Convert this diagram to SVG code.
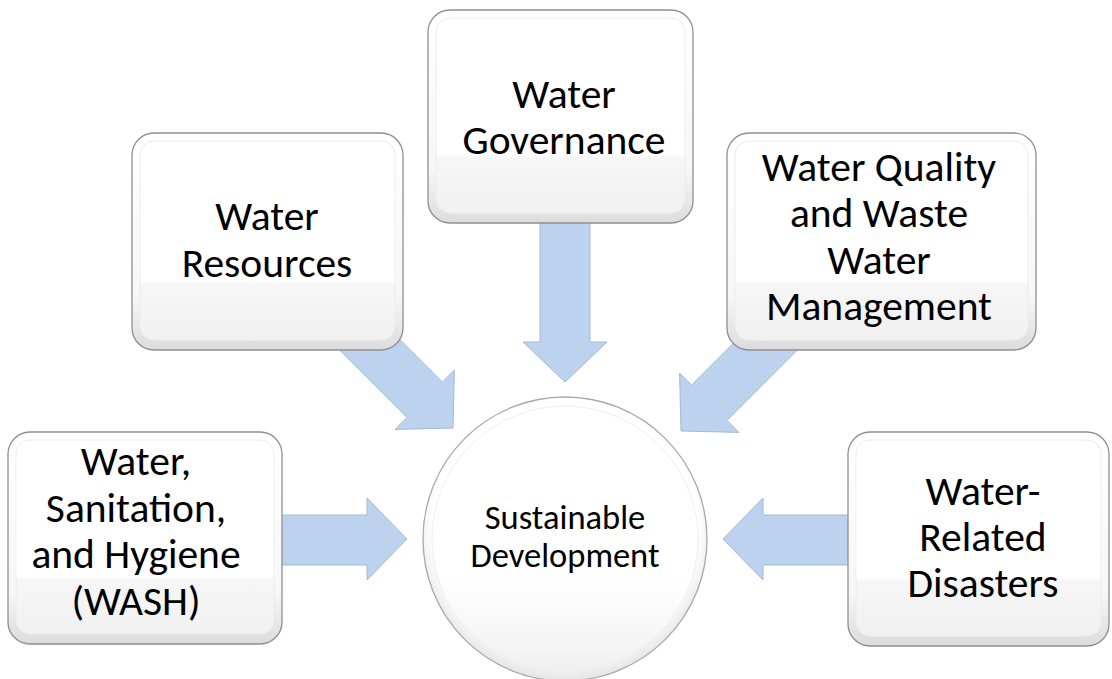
<svg xmlns="http://www.w3.org/2000/svg" width="1112" height="679" viewBox="0 0 1112 679">
  <style>
    .lbl { font-family: Carlito, Lato, "Liberation Sans", sans-serif; font-size: 41.5px; fill: #000; text-anchor: middle; }
    .cl { font-family: Carlito, Lato, "Liberation Sans", sans-serif; font-size: 34.5px; fill: #000; text-anchor: middle; }
    .outer { fill: url(#boxGrad); stroke: #8f8f8f; stroke-width: 1.3; }
    .inner { fill: url(#innerGrad); stroke: #ececec; stroke-width: 1; }
    .arrow { fill: #bcd2ee; stroke: #a3b9d8; stroke-width: 1; }
  </style>
  <defs>
    <linearGradient id="boxGrad" x1="0" y1="0" x2="0" y2="1">
      <stop offset="0" stop-color="#ffffff"/>
      <stop offset="0.75" stop-color="#f7f7f7"/>
      <stop offset="1" stop-color="#dcdcdc"/>
    </linearGradient>
    <linearGradient id="innerGrad" x1="0" y1="0" x2="0" y2="1">
      <stop offset="0" stop-color="#ffffff"/>
      <stop offset="0.7" stop-color="#ffffff"/>
      <stop offset="0.72" stop-color="#f6f6f6"/>
      <stop offset="1" stop-color="#f1f1f1"/>
    </linearGradient>
    <radialGradient id="circGrad" cx="0.5" cy="0.45" r="0.55">
      <stop offset="0.85" stop-color="#ffffff"/>
      <stop offset="1" stop-color="#e4e4e4"/>
    </radialGradient>
    <linearGradient id="circInner" x1="0" y1="0" x2="0" y2="1">
      <stop offset="0" stop-color="#ffffff"/>
      <stop offset="0.65" stop-color="#ffffff"/>
      <stop offset="1" stop-color="#f0f0f0"/>
    </linearGradient>
  </defs>

  <g id="connectors">
    <polygon class="arrow" points="540,200 590,200 590,342 607,342 565,382 523,342 540,342"/>
    <polygon class="arrow" points="260,515 367,515 367,498 407,539 367,580 367,565 260,565"/>
    <polygon class="arrow" points="870,515 763,515 763,498 723,539 763,580 763,565 870,565"/>
    <polygon class="arrow" points="364.6,304.2 442.4,382 454.4,370 453,428 395,429.4 407,417.4 329.2,339.6"/>
    <polygon class="arrow" points="769.4,307.2 691.6,385 679.6,373 681,431 739,432.4 727,420.4 804.8,342.6"/>
  </g>

  <g id="node-governance">
    <rect class="outer" x="428" y="10" width="265" height="213" rx="22"/>
    <rect class="inner" x="436" y="18" width="249" height="195" rx="14"/>
    <text class="lbl" x="564" y="108">Water</text>
    <text class="lbl" x="564" y="154">Governance</text>
  </g>

  <g id="node-resources">
    <rect class="outer" x="132" y="133" width="271" height="217" rx="22"/>
    <rect class="inner" x="140" y="141" width="255" height="199" rx="14"/>
    <text class="lbl" x="267" y="230">Water</text>
    <text class="lbl" x="267" y="277">Resources</text>
  </g>

  <g id="node-quality">
    <rect class="outer" x="727" y="133" width="309" height="217" rx="22"/>
    <rect class="inner" x="735" y="141" width="293" height="199" rx="14"/>
    <text class="lbl" x="879" y="181">Water Quality</text>
    <text class="lbl" x="879" y="227">and Waste</text>
    <text class="lbl" x="879" y="274">Water</text>
    <text class="lbl" x="879" y="320">Management</text>
  </g>

  <g id="node-wash">
    <rect class="outer" x="8" y="432" width="274" height="212" rx="22"/>
    <rect class="inner" x="16" y="440" width="258" height="194" rx="14"/>
    <text class="lbl" x="136" y="475">Water,</text>
    <text class="lbl" x="136" y="522">Sanitation,</text>
    <text class="lbl" x="136" y="568">and Hygiene</text>
    <text class="lbl" x="136" y="615">(WASH)</text>
  </g>

  <g id="node-disasters">
    <rect class="outer" x="848" y="432" width="261" height="214" rx="22"/>
    <rect class="inner" x="856" y="440" width="245" height="196" rx="14"/>
    <text class="lbl" x="983" y="505">Water-</text>
    <text class="lbl" x="983" y="551">Related</text>
    <text class="lbl" x="983" y="597">Disasters</text>
  </g>

  <g id="node-center">
    <circle cx="565" cy="539" r="142" fill="url(#circGrad)" stroke="#a8a8a8" stroke-width="1.3"/>
    <circle cx="565" cy="539" r="133" fill="url(#circInner)" stroke="#efefef" stroke-width="1"/>
    <text class="cl" x="565" y="529">Sustainable</text>
    <text class="cl" x="565" y="567">Development</text>
  </g>
</svg>
